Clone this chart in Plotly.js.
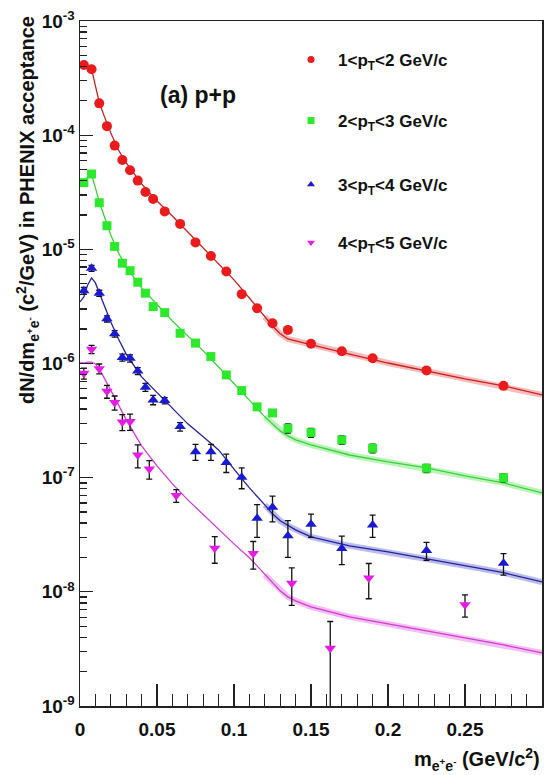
<!DOCTYPE html>
<html>
<head>
<meta charset="utf-8">
<script src="https://cdn.plot.ly/plotly-3.0.1.min.js"></script>
<style>html,body{margin:0;padding:0;background:#fff;}#plot{width:554px;height:775px;}</style>
</head>
<body>
<div id="plot"></div>
<script>
// ---- data points ----
const massBins = [0.0025, 0.0075, 0.0125, 0.0175, 0.0225, 0.0275, 0.0325, 0.0375, 0.0425, 0.0475,
  0.055, 0.065, 0.075, 0.085, 0.095, 0.105, 0.115, 0.125, 0.135, 0.15, 0.17, 0.19, 0.225, 0.275];
const massBinsHighPt = [0.0025, 0.0075, 0.0125, 0.0175, 0.0225, 0.0275, 0.0325, 0.0375, 0.045,
  0.0625, 0.0875, 0.1125, 0.1375, 0.1625, 0.1875, 0.25];

const yieldPt12 = [4.12e-4, 3.78e-4, 1.90e-4, 1.20e-4, 8.1e-5, 6.07e-5, 4.93e-5, 4.0e-5, 3.18e-5, 2.76e-5,
  2.15e-5, 1.67e-5, 1.15e-5, 8.75e-6, 6.4e-6, 4.05e-6, 3.05e-6, 2.25e-6, 1.97e-6, 1.49e-6, 1.28e-6, 1.11e-6, 8.7e-7, 6.37e-7];
const errPt12 = [8e-6, 8e-6, 4e-6, 2.5e-6, 1.7e-6, 1.3e-6, 1.0e-6, 0.8e-6, 0.65e-6, 0.55e-6,
  0.45e-6, 0.35e-6, 0.25e-6, 0.2e-6, 0.15e-6, 0.1e-6, 0.08e-6, 0.06e-6, 0.06e-6, 0.045e-6, 0.04e-6, 0.035e-6, 0.03e-6, 0.025e-6];

const yieldPt23 = [3.84e-5, 4.57e-5, 2.56e-5, 1.61e-5, 1.06e-5, 7.56e-6, 6.5e-6, 5.15e-6, 4.13e-6, 3.15e-6,
  2.79e-6, 1.84e-6, 1.51e-6, 1.15e-6, 7.94e-7, 5.79e-7, 4.17e-7, 3.69e-7, 2.71e-7, 2.48e-7, 2.14e-7, 1.81e-7, 1.21e-7, 1.0e-7];
const errPt23 = [1.2e-6, 1.4e-6, 0.8e-6, 0.5e-6, 0.35e-6, 0.25e-6, 0.22e-6, 0.18e-6, 0.15e-6, 0.12e-6,
  0.1e-6, 0.07e-6, 0.06e-6, 0.05e-6, 0.04e-6, 0.03e-6, 0.025e-6, 0.025e-6, 0.025e-6, 0.022e-6, 0.018e-6, 0.016e-6, 0.01e-6, 0.008e-6];

const yieldPt34 = [4.34e-6, 6.82e-6, 4.13e-6, 2.46e-6, 1.82e-6, 1.13e-6, 1.11e-6, 8.6e-7, 6.2e-7, 4.8e-7,
  4.73e-7, 2.8e-7, 1.69e-7, 1.69e-7, 1.36e-7, 1.01e-7, 4.4e-8, 5.5e-8, 3.1e-8, 3.9e-8, 2.4e-8, 3.85e-8, 2.3e-8, 1.78e-8];
const errPt34 = [0.3e-6, 0.4e-6, 0.25e-6, 0.15e-6, 0.12e-6, 0.08e-6, 0.08e-6, 0.6e-7, 0.5e-7, 0.45e-7,
  0.3e-7, 0.24e-7, 0.27e-7, 0.27e-7, 0.25e-7, 0.21e-7, 1.4e-8, 1.4e-8, 1.1e-8, 0.9e-8, 0.67e-8, 0.85e-8, 0.41e-8, 0.38e-8];

const yieldPt45 = [8.2e-7, 1.33e-6, 9.0e-7, 5.7e-7, 4.55e-7, 3.07e-7, 3.1e-7, 1.58e-7, 1.19e-7,
  6.97e-8, 2.41e-8, 2.17e-8, 1.19e-8, 3.2e-9, 1.32e-8, 7.7e-9];
const errPt45 = [0.9e-7, 1.1e-7, 0.9e-7, 0.74e-7, 0.64e-7, 0.49e-7, 0.5e-7, 0.36e-7, 0.22e-7,
  0.9e-8, 0.63e-8, 0.59e-8, 0.43e-8, 2.3e-9, 0.45e-8, 1.7e-9];

// ---- cocktail curves ----
const curveX = [0, 0.0025, 0.005, 0.0075, 0.01, 0.0125, 0.015, 0.02, 0.025, 0.03, 0.04, 0.05, 0.06, 0.07,
  0.08, 0.09, 0.1, 0.11, 0.12, 0.125, 0.13, 0.135, 0.14, 0.15, 0.175, 0.2, 0.225, 0.25, 0.275, 0.3];
const curvePt12 = [4.29e-4, 4.20e-4, 4.04e-4, 3.80e-4, 2.70e-4, 1.95e-4, 1.56e-4, 1.045e-4, 7.42e-5, 5.71e-5,
  3.74e-5, 2.65e-5, 1.96e-5, 1.42e-5, 1.028e-5, 7.60e-6, 5.40e-6, 3.75e-6, 2.56e-6, 2.13e-6, 1.82e-6, 1.64e-6,
  1.58e-6, 1.46e-6, 1.21e-6, 1.01e-6, 8.61e-7, 7.33e-7, 6.37e-7, 5.31e-7];
const curvePt23 = [3.59e-5, 3.89e-5, 4.31e-5, 4.57e-5, 3.45e-5, 2.60e-5, 2.08e-5, 1.337e-5, 9.30e-6, 7.01e-6,
  4.59e-6, 3.26e-6, 2.36e-6, 1.745e-6, 1.29e-6, 9.33e-7, 6.63e-7, 4.70e-7, 3.41e-7, 2.96e-7, 2.57e-7, 2.32e-7,
  2.14e-7, 1.94e-7, 1.58e-7, 1.375e-7, 1.22e-7, 1.037e-7, 9.0e-8, 7.36e-8];
const curvePt34 = [3.46e-6, 3.83e-6, 4.88e-6, 5.62e-6, 5.08e-6, 4.15e-6, 3.40e-6, 2.31e-6, 1.64e-6, 1.21e-6,
  7.63e-7, 5.53e-7, 4.0e-7, 2.96e-7, 2.28e-7, 1.75e-7, 1.19e-7, 8.14e-8, 5.78e-8, 4.82e-8, 4.19e-8, 3.79e-8,
  3.49e-8, 3.03e-8, 2.53e-8, 2.24e-8, 1.94e-8, 1.69e-8, 1.47e-8, 1.22e-8];
const curvePt45 = [1.01e-6, 1.01e-6, 1.03e-6, 1.03e-6, 9.92e-7, 8.97e-7, 7.79e-7, 5.87e-7, 4.34e-7, 3.21e-7,
  1.90e-7, 1.27e-7, 8.83e-8, 6.39e-8, 4.72e-8, 3.49e-8, 2.63e-8, 1.99e-8, 1.41e-8, 1.20e-8, 1.02e-8, 9.04e-9,
  8.34e-9, 7.39e-9, 6.04e-9, 5.25e-9, 4.55e-9, 3.95e-9, 3.43e-9, 2.92e-9];

const seriesNames = ['1<p<sub>T</sub><2 GeV/c', '2<p<sub>T</sub><3 GeV/c', '3<p<sub>T</sub><4 GeV/c', '4<p<sub>T</sub><5 GeV/c'];
const xTickVals = [0, 0.05, 0.1, 0.15, 0.2, 0.25, 0.3];
const xTickText = ['0', '0.05', '0.1', '0.15', '0.2', '0.25', '0.3'];
const yTickVals = [1e-9, 1e-8, 1e-7, 1e-6, 1e-5, 1e-4, 1e-3];
const yTickText = ['10<sup>-9</sup>', '10<sup>-8</sup>', '10<sup>-7</sup>', '10<sup>-6</sup>', '10<sup>-5</sup>', '10<sup>-4</sup>', '10<sup>-3</sup>'];

// ---- styles ----
const FONT = 'Liberation Sans, Arial, Helvetica, sans-serif';
const series = [
  {x: massBins, y: yieldPt12, e: errPt12, c: curvePt12, mc: '#e81c1c', lc: '#c82020', band: 'rgba(230,60,60,0.35)', sym: 'circle', size: 10},
  {x: massBins, y: yieldPt23, e: errPt23, c: curvePt23, mc: '#2ee82e', lc: '#3ad23a', band: 'rgba(60,220,60,0.35)', sym: 'square', size: 9},
  {x: massBins, y: yieldPt34, e: errPt34, c: curvePt34, mc: '#1a1ad2', lc: '#22229c', band: 'rgba(60,60,200,0.35)', sym: 'triangle-up', size: 10},
  {x: massBinsHighPt, y: yieldPt45, e: errPt45, c: curvePt45, mc: '#e61ce6', lc: '#d03cd0', band: 'rgba(220,70,220,0.35)', sym: 'triangle-down', size: 10}
];
const bandStart = curveX.indexOf(0.12);
const legendIds = ['legend', 'legend2', 'legend3', 'legend4'];
const legendY = [0.943, 0.854, 0.7606, 0.676];

const traces = [];
series.forEach(s => {
  traces.push({x: curveX.slice(bandStart), y: s.c.slice(bandStart), mode: 'lines', type: 'scatter',
    line: {color: s.band, width: 6}, showlegend: false, hoverinfo: 'skip'});
  traces.push({x: curveX, y: s.c, mode: 'lines', type: 'scatter',
    line: {color: s.lc, width: 1.3}, showlegend: false, hoverinfo: 'skip'});
});
series.forEach(s => {
  traces.push({x: s.x, y: s.y, mode: 'markers', type: 'scatter', showlegend: false,
    marker: {symbol: s.sym, size: s.size, color: s.mc},
    error_y: {type: 'data', array: s.e, color: '#111', thickness: 1.3, width: 3}});
});
series.forEach((s, i) => {
  traces.push({x: [null], y: [null], mode: 'markers', type: 'scatter', name: seriesNames[i],
    legend: legendIds[i], showlegend: true,
    marker: {symbol: s.sym, size: 7, color: s.mc}});
});

const axisCommon = {
  showline: true, linecolor: '#222', linewidth: 1.5, mirror: true,
  showgrid: false, zeroline: false, ticks: 'inside', tickcolor: '#222', tickwidth: 1.3,
  tickfont: {family: FONT, size: 19, color: '#111', weight: 'bold'}
};

function legendBox(yy) {
  return {x: 0.4416, xanchor: 'left', y: yy, yanchor: 'middle', bgcolor: 'rgba(0,0,0,0)',
    font: {family: FONT, size: 17, color: '#111', weight: 'bold'}, itemwidth: 44};
}

const layout = {
  width: 554, height: 775,
  margin: {l: 80, r: 12, t: 21, b: 69},
  paper_bgcolor: '#fff', plot_bgcolor: '#fff',
  showlegend: true,
  xaxis: Object.assign({}, axisCommon, {
    range: [0, 0.3], tickmode: 'array', tickvals: xTickVals, ticktext: xTickText,
    ticklen: 22, ticklabelstandoff: 6,
    minor: {ticks: 'inside', dtick: 0.01, ticklen: 12, tickwidth: 1.3, tickcolor: '#222', showgrid: false}
  }),
  yaxis: Object.assign({}, axisCommon, {
    type: 'log', range: [-9, -3], tickmode: 'array', tickvals: yTickVals, ticktext: yTickText,
    ticklen: 13,
    minor: {ticks: 'inside', dtick: 'D1', ticklen: 7, tickwidth: 1.3, tickcolor: '#222', showgrid: false}
  }),
  annotations: [
    {text: '(a) p+p', xref: 'paper', yref: 'paper', x: 0.255, y: 0.892, xanchor: 'center', yanchor: 'middle',
      showarrow: false, font: {family: FONT, size: 23, color: '#111', weight: 'bold'}},
    {text: 'dN/dm<sub>e<sup>+</sup>e<sup>-</sup></sub> (c<sup>2</sup>/GeV) in PHENIX acceptance',
      xref: 'paper', yref: 'paper', x: -0.1147, y: 0.724, xanchor: 'center', yanchor: 'middle',
      textangle: -90, showarrow: false,
      font: {family: FONT, size: 20, color: '#111', weight: 'bold'}},
    {text: 'm<sub>e<sup>+</sup>e<sup>-</sup></sub> (GeV/c<sup>2</sup>)', xref: 'paper', yref: 'paper',
      x: 1, xanchor: 'right', y: -0.0788, yanchor: 'middle', showarrow: false,
      font: {family: FONT, size: 20, color: '#111', weight: 'bold'}}
  ]
};
legendIds.forEach((id, i) => { layout[id] = legendBox(legendY[i]); });

Plotly.newPlot('plot', traces, layout, {staticPlot: true, displayModeBar: false});
</script>
</body>
</html>
